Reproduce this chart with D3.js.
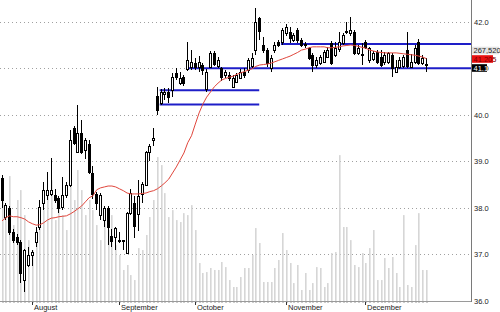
<!DOCTYPE html>
<html>
<head>
<meta charset="utf-8">
<script src="https://cdn.jsdelivr.net/npm/d3@7"></script>
<style>
  body { margin: 0; background: #fff; }
  svg { display: block; font-family: "Liberation Sans", Arial, sans-serif; }
</style>
</head>
<body>
<div id="chart"></div>
<script>
// daily bars, [open, high, low, close]
const candles = [
  [38.64, 38.70, 38.00, 38.17], [37.80, 38.10, 37.75, 38.06], [38.00, 38.05, 37.42, 37.48], [37.48, 37.55, 37.25, 37.31],
  [37.38, 37.45, 37.20, 37.27], [37.27, 37.30, 36.39, 36.60], [36.46, 37.12, 36.20, 37.10], [36.78, 37.15, 36.72, 36.99],
  [36.99, 37.10, 36.75, 37.05], [37.27, 37.58, 37.17, 37.48], [37.59, 38.18, 37.52, 38.02], [38.11, 38.56, 37.96, 38.39],
  [38.28, 38.78, 38.18, 38.39], [38.30, 39.07, 38.25, 38.39], [38.28, 38.40, 38.10, 38.17], [38.21, 38.25, 37.90, 38.00],
  [38.02, 38.66, 37.96, 38.28], [38.28, 38.55, 38.22, 38.50], [38.50, 39.68, 38.45, 39.46], [39.72, 39.75, 39.35, 39.40],
  [39.20, 40.21, 39.18, 39.61], [39.61, 39.89, 39.15, 39.20], [39.25, 39.50, 39.05, 39.46], [39.38, 39.45, 38.72, 38.78],
  [38.75, 38.90, 38.20, 38.30], [38.30, 38.35, 37.95, 38.10], [37.85, 38.32, 37.75, 38.28], [37.75, 38.05, 37.60, 38.00],
  [38.00, 38.05, 37.20, 37.60], [37.40, 37.55, 37.15, 37.30], [37.38, 37.60, 37.10, 37.57], [37.30, 37.49, 37.25, 37.32],
  [37.28, 37.32, 37.10, 37.30], [37.05, 37.92, 37.03, 37.90], [37.90, 38.40, 37.85, 38.33], [38.10, 38.25, 37.35, 37.60],
  [37.88, 38.60, 37.50, 38.26], [38.30, 38.55, 38.10, 38.51], [38.50, 39.22, 38.48, 39.20], [39.20, 39.38, 39.00, 39.33],
  [39.46, 39.72, 39.33, 39.50], [40.40, 40.60, 40.00, 40.10], [40.26, 40.55, 40.22, 40.50], [40.45, 40.58, 40.32, 40.50],
  [40.49, 40.58, 40.25, 40.38], [40.53, 40.90, 40.38, 40.81], [40.90, 41.00, 40.75, 40.82], [40.70, 40.92, 40.64, 40.80],
  [40.82, 40.86, 40.62, 40.70], [40.98, 41.56, 40.95, 41.18], [41.03, 41.39, 40.96, 41.14], [41.11, 41.22, 40.96, 41.03],
  [41.03, 41.27, 40.93, 41.14], [41.07, 41.11, 40.86, 40.96], [40.55, 40.98, 40.50, 40.92], [41.03, 41.36, 41.00, 41.33],
  [41.33, 41.36, 41.05, 41.10], [41.05, 41.25, 41.00, 41.17], [41.00, 41.03, 40.72, 40.81], [40.85, 40.96, 40.78, 40.92],
  [40.86, 40.92, 40.72, 40.80], [40.60, 40.86, 40.57, 40.80], [40.72, 40.90, 40.68, 40.86], [40.80, 40.98, 40.76, 40.92],
  [40.92, 41.00, 40.78, 40.86], [40.96, 41.22, 40.90, 41.18], [41.05, 41.33, 41.00, 41.22], [41.39, 42.30, 41.29, 42.00],
  [42.08, 42.10, 41.60, 41.80], [41.50, 41.67, 41.33, 41.40], [41.39, 41.44, 41.03, 41.12], [41.00, 41.29, 40.92, 41.22],
  [41.39, 41.56, 41.33, 41.50], [41.56, 41.60, 41.46, 41.50], [41.56, 41.86, 41.50, 41.82], [41.76, 41.94, 41.70, 41.88],
  [41.78, 41.89, 41.54, 41.65], [41.61, 41.76, 41.56, 41.72], [41.82, 41.86, 41.54, 41.61], [41.60, 41.65, 41.46, 41.50],
  [41.52, 41.56, 41.44, 41.50], [41.44, 41.46, 41.18, 41.22], [41.28, 41.33, 40.92, 41.07], [41.08, 41.24, 41.00, 41.18],
  [41.12, 41.29, 41.07, 41.24], [41.14, 41.40, 41.12, 41.35], [41.25, 41.46, 41.22, 41.39], [41.54, 41.58, 41.07, 41.11],
  [41.29, 41.56, 41.24, 41.44], [41.40, 41.78, 41.35, 41.56], [41.54, 41.76, 41.50, 41.72], [41.78, 42.00, 41.74, 41.80],
  [41.75, 42.10, 41.70, 41.82], [41.78, 41.82, 41.29, 41.33], [41.33, 41.50, 41.29, 41.44], [41.30, 41.54, 41.07, 41.28],
  [41.56, 41.60, 41.42, 41.46], [41.18, 41.46, 41.11, 41.44], [41.20, 41.38, 41.16, 41.33], [41.35, 41.40, 41.10, 41.14],
  [41.24, 41.39, 41.03, 41.07], [41.12, 41.35, 41.07, 41.28], [41.12, 41.35, 41.10, 41.32], [41.29, 41.33, 40.82, 41.00],
  [40.93, 41.18, 40.90, 41.03], [41.03, 41.24, 40.98, 41.18], [41.05, 41.28, 41.00, 41.24], [41.39, 41.78, 41.00, 41.04],
  [41.03, 41.30, 41.00, 41.14], [41.14, 41.50, 41.10, 41.44], [41.56, 41.62, 41.07, 41.11], [41.12, 41.28, 41.08, 41.22],
  [41.10, 41.22, 40.92, 41.08]
];

const volumes = [
  872000, 742000, 1079000, 656000, 872000, 958000, 742000, 526000, 440000, 613000,
  656000, 785000, 915000, 1044000, 699000, 828000, 742000, 613000, 1001000, 872000,
  1131000, 958000, 742000, 872000, 785000, 656000, 526000, 699000, 613000, 742000,
  483000, 397000, 268000, 311000, 224000, 181000, 457000, 440000, 570000, 725000,
  872000, 1243000, 1174000, 932000, 725000, 785000, 699000, 682000, 759000, 742000,
  828000, 613000, 328000, 242000, 250000, 285000, 268000, 268000, 337000, 293000,
  181000, 121000, 121000, 207000, 285000, 285000, 397000, 630000, 501000, 164000,
  164000, 164000, 285000, 354000, 587000, 440000, 328000, 155000, 311000, 95000,
  242000, 95000, 155000, 293000, 285000, 121000, 155000, 414000, 423000, 1260000,
  639000, 639000, 526000, 311000, 293000, 414000, 328000, 457000, 613000, 181000,
  181000, 371000, 285000, 380000, 242000, 121000, 742000, 138000, 121000, 483000,
  759000, 268000, 267520
];

const movingAvg = [
  37.72, 37.79, 37.83, 37.81, 37.81, 37.79, 37.76, 37.70, 37.66, 37.63,
  37.64, 37.68, 37.74, 37.78, 37.79, 37.81, 37.82, 37.83, 37.87, 37.92,
  37.98, 38.04, 38.13, 38.22, 38.26, 38.39, 38.43, 38.45, 38.47, 38.47,
  38.45, 38.41, 38.37, 38.32, 38.30, 38.30, 38.30, 38.31, 38.32, 38.35,
  38.37, 38.41, 38.47, 38.54, 38.62, 38.75, 38.88, 39.03, 39.18, 39.40,
  39.55, 39.80, 40.04, 40.23, 40.38, 40.49, 40.60, 40.68, 40.75, 40.78,
  40.81, 40.83, 40.87, 40.90, 40.93, 40.96, 40.99, 41.04, 41.07, 41.08,
  41.09, 41.11, 41.14, 41.17, 41.20, 41.23, 41.26, 41.30, 41.34, 41.39,
  41.41, 41.44, 41.46, 41.46, 41.46, 41.46, 41.44, 41.44, 41.45, 41.46,
  41.48, 41.49, 41.50, 41.49, 41.47, 41.45, 41.43, 41.39, 41.37, 41.35,
  41.34, 41.33, 41.33, 41.33, 41.33, 41.32, 41.31, 41.30, 41.29, 41.28,
  41.26, 41.24, 41.205
];

const monthNames = ['August', 'September', 'October', 'November', 'December'];
const monthStarts = [8, 31, 51, 75, 96];
const priceTicks = [36, 37, 38, 39, 40, 41, 42];

// horizontal levels: start bar, end bar (null = to the axis), price
const levelStarts = [42, 42, 49, 74];
const levelEnds = [68, 68, null, null];
const levelPrices = [40.53, 40.22, 41.0, 41.52];

const lastVolume = 267520;
const lastAvg = 41.205;
const lastClose = 41.1;

const width = 500, height = 312;
const axisX = 471, bottomY = 301;

const svg = d3.select('#chart').append('svg')
  .attr('width', width)
  .attr('height', height);

const x = d3.scaleLinear().domain([0, candles.length - 1]).range([1.5, 426]);
const y = d3.scaleLinear().domain([36, 42]).range([bottomY, 21.7]);
const yVol = d3.scaleLinear().domain([0, 2600000]).range([bottomY, 0]);

const px = i => Math.round(x(i));

// dotted grid
svg.append('g')
  .selectAll('line')
  .data(priceTicks)
  .join('line')
  .attr('x1', 0).attr('x2', axisX)
  .attr('y1', d => Math.round(y(d)) + 0.5)
  .attr('y2', d => Math.round(y(d)) + 0.5)
  .attr('stroke', '#a0a0a0')
  .attr('stroke-dasharray', '1,3');

// volume
svg.append('g')
  .selectAll('rect')
  .data(volumes)
  .join('rect')
  .attr('x', (d, i) => px(i))
  .attr('width', 1.6)
  .attr('y', d => yVol(d))
  .attr('height', d => bottomY - yVol(d))
  .attr('fill', '#d6d6d6');

// support / resistance levels
svg.append('g')
  .selectAll('line')
  .data(levelPrices)
  .join('line')
  .attr('x1', (d, i) => x(levelStarts[i]) - 1)
  .attr('x2', (d, i) => levelEnds[i] === null ? axisX : x(levelEnds[i]))
  .attr('y1', d => y(d))
  .attr('y2', d => y(d))
  .attr('stroke', '#1e1ec8')
  .attr('stroke-width', 2);

// candles
const bars = svg.append('g')
  .attr('shape-rendering', 'crispEdges')
  .selectAll('g')
  .data(candles)
  .join('g');

bars.append('line')
  .attr('x1', (d, i) => px(i) + 0.5)
  .attr('x2', (d, i) => px(i) + 0.5)
  .attr('y1', d => y(d[1]))
  .attr('y2', d => y(d[2]))
  .attr('stroke', '#000');

bars.append('rect')
  .attr('x', (d, i) => px(i) - 0.5)
  .attr('width', 2)
  .attr('y', d => Math.round(y(Math.max(d[0], d[3]))) + 0.5)
  .attr('height', d => Math.max(0.5, Math.round(Math.abs(y(d[0]) - y(d[3])))))
  .attr('fill', d => d[3] >= d[0] ? '#fff' : '#000')
  .attr('stroke', '#000');

// moving average
svg.append('path')
  .datum(movingAvg)
  .attr('fill', 'none')
  .attr('stroke', '#e0463c')
  .attr('stroke-width', 1)
  .attr('d', d3.line().x((d, i) => x(i) + 0.5).y(d => y(d)));

// axes frame
svg.append('line')
  .attr('x1', axisX + 0.5).attr('x2', axisX + 0.5)
  .attr('y1', 0).attr('y2', bottomY + 1)
  .attr('stroke', '#7a7a7a');
svg.append('line')
  .attr('x1', 0).attr('x2', axisX)
  .attr('y1', bottomY + 0.5).attr('y2', bottomY + 0.5)
  .attr('stroke', '#9a9a9a');

// day ticks under the axis
const xAxis = svg.append('g')
  .attr('transform', `translate(0.5,${bottomY})`)
  .call(d3.axisBottom(x).tickValues(d3.range(candles.length)).tickSize(2).tickFormat(''));
xAxis.select('.domain').remove();
xAxis.selectAll('line').attr('stroke', '#9a9a9a').attr('transform', (d) => `translate(${px(d) - x(d)},0)`);

// month labels
const months = svg.append('g').attr('font-size', 7.5).attr('fill', '#222');
months.selectAll('line')
  .data(monthStarts)
  .join('line')
  .attr('x1', d => px(d) + 0.5).attr('x2', d => px(d) + 0.5)
  .attr('y1', bottomY + 1).attr('y2', bottomY + 4)
  .attr('stroke', '#333');
months.selectAll('text')
  .data(monthNames)
  .join('text')
  .attr('x', (d, i) => px(monthStarts[i]) + 2)
  .attr('y', 309.5)
  .text(d => d);

// price labels
const yAxis = svg.append('g')
  .attr('transform', `translate(${axisX},0)`)
  .call(d3.axisRight(y).tickValues(priceTicks).tickSize(0).tickPadding(3).tickFormat(d3.format('.1f')));
yAxis.select('.domain').remove();
yAxis.selectAll('text')
  .attr('font-family', '"Liberation Sans", Arial, sans-serif')
  .attr('font-size', 7.5)
  .attr('fill', '#222');

// last value tags
const fmtVol = d3.format(',');
const tags = [
  { text: fmtVol(lastVolume), cy: 50.5, bg: '#e4e4e4', fg: '#222', w: 27 },
  { text: d3.format('.3f')(lastAvg), cy: 59, bg: '#e81010', fg: '#7a0000', w: 21 },
  { text: d3.format('.1f')(lastClose), cy: 68, bg: '#000', fg: '#fff', w: 15 }
];
const tag = svg.append('g').selectAll('g').data(tags).join('g');
tag.append('rect')
  .attr('x', axisX + 1)
  .attr('y', d => d.cy - 3.8)
  .attr('width', d => d.w)
  .attr('height', 7.6)
  .attr('fill', d => d.bg);
tag.append('text')
  .attr('x', axisX + 2.5)
  .attr('y', d => d.cy + 2.7)
  .attr('font-size', 7.5)
  .attr('fill', d => d.fg)
  .text(d => d.text);
</script>
</body>
</html>
